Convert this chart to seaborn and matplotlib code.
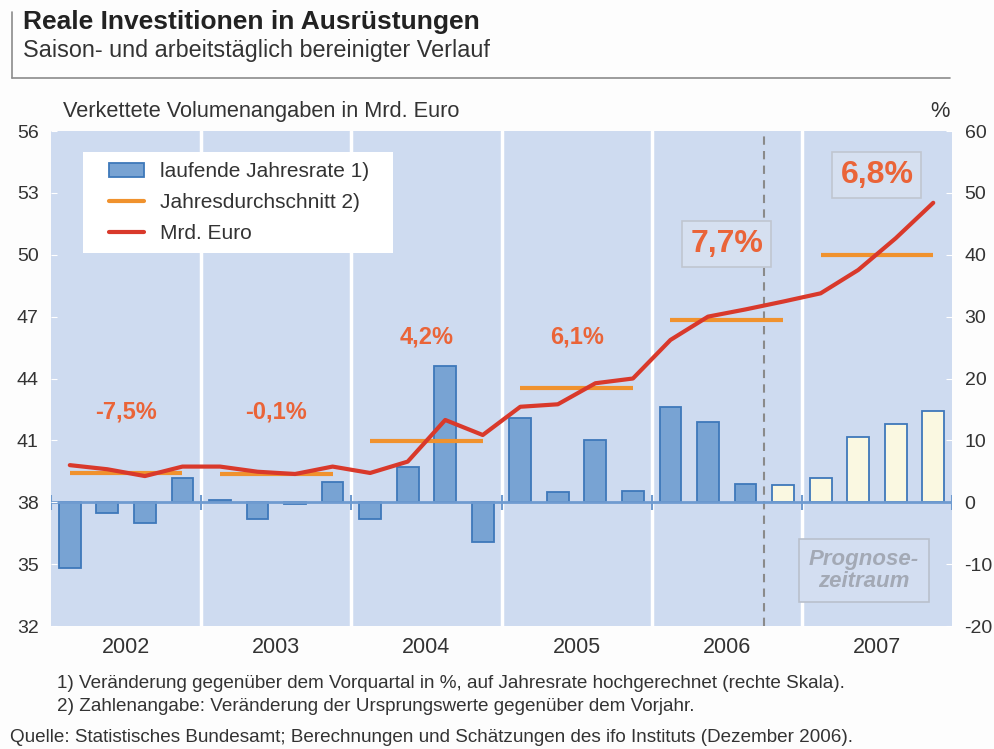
import matplotlib.pyplot as plt
import matplotlib.lines as mlines
import matplotlib.patches as mpatches
import pandas as pd
import seaborn as sns

# Data
years = ['2002', '2003', '2004', '2005', '2006', '2007']
quarter_idx = list(range(24))
# laufende Jahresrate in % (right axis)
rate = [-10.7, -1.8, -3.3, 3.9,
        0.3, -2.7, -0.3, 3.3,
        -2.7, 5.7, 22.1, -6.5,
        13.6, 1.6, 10.0, 1.9,
        15.4, 12.9, 2.9, 2.8,
        4.0, 10.5, 12.6, 14.7]
phase = ['Ist'] * 19 + ['Prognose'] * 5
# Mrd. Euro (left axis)
level = [39.8, 39.6, 39.27, 39.73,
         39.73, 39.48, 39.37, 39.73,
         39.42, 39.97, 41.99, 41.26,
         42.63, 42.75, 43.77, 44.0,
         45.87, 47.0, 47.35, 47.73,
         48.13, 49.26, 50.8, 52.52]
year_avg = [39.42, 39.37, 40.98, 43.52, 46.84, 50.0]
year_change = ['-7,5%', '-0,1%', '4,2%', '6,1%', '7,7%', '6,8%']

left_ticks = [32, 35, 38, 41, 44, 47, 50, 53, 56]
right_ticks = [-20, -10, 0, 10, 20, 30, 40, 50, 60]

bg = '#CEDBF0'
bar_blue = '#78A3D3'
bar_edge = '#3E78BA'
cream = '#FAF8E1'
red = '#D9392B'
orange = '#F0922E'
label_col = '#EA6438'
txt = '#333333'

sns.set_style('white')
plt.rcParams['font.family'] = ['Liberation Sans', 'DejaVu Sans']
plt.rcParams['axes.unicode_minus'] = False

df = pd.DataFrame({'q': quarter_idx, 'rate': rate, 'phase': phase})

fig = plt.figure(figsize=(9.95, 7.49), dpi=100)
fig.patch.set_facecolor('#FDFDFD')
ax = fig.add_axes([0.0513, 0.1642, 0.9055, 0.6609])
ax.set_facecolor(bg)

# bars on the % axis
sns.barplot(data=df, x='q', y='rate', hue='phase',
            palette={'Ist': bar_blue, 'Prognose': cream}, saturation=1,
            dodge=False, width=0.58, edgecolor=bar_edge, linewidth=1.3,
            legend=False, ax=ax, zorder=3)
ax.set_xlim(-0.5, 23.5)
ax.set_ylim(-20, 60)
ax.set_xlabel('')
ax.set_ylabel('')

# year separators and forecast marker
for b in [3.5, 7.5, 11.5, 15.5, 19.5]:
    ax.axvline(b, color='white', lw=2.5, zorder=1)
ax.axvline(18.5, color='#8A8A8A', lw=1.5, ls=(0, (4, 3)), zorder=2)
ax.axhline(0, color='#6F9BD0', lw=2, zorder=4)
ax.vlines([-0.5, 3.5, 7.5, 11.5, 15.5, 19.5, 23.5], -1.2, 1.2,
          color='#6F9BD0', lw=1.5, zorder=4)

ax.set_xticks([1.5, 5.5, 9.5, 13.5, 17.5, 21.5])
ax.set_xticklabels(years, fontsize=15.5, color=txt)
ax.tick_params(axis='x', length=0, pad=8)

# Mrd. Euro on twin axis (shown on the left)
ax2 = ax.twinx()
ax2.set_ylim(32, 56)
ax2.set_yticks(left_ticks)
ax2.yaxis.tick_left()
ax2.tick_params(axis='y', direction='in', length=4, color='white',
                labelsize=14, labelcolor=txt, pad=9)
ax.yaxis.tick_right()
ax.set_yticks(right_ticks)
ax.tick_params(axis='y', direction='in', length=4, color='white',
               labelsize=14, labelcolor=txt, pad=9)

sns.lineplot(x=quarter_idx, y=level, ax=ax2, color=red, lw=3, zorder=6)
for i, v in enumerate(year_avg):
    ax2.hlines(v, 4 * i, 4 * i + 3, color=orange, lw=3, zorder=5)

for s in ['top', 'bottom', 'left', 'right']:
    ax.spines[s].set_visible(False)
    ax2.spines[s].set_visible(False)

# yearly change labels
lab_pos = [(1.5, 42.4), (5.5, 42.4), (9.5, 46.0), (13.5, 46.0)]
for (x, y), s in zip(lab_pos, year_change[:4]):
    ax2.text(x, y, s, ha='center', va='center', fontsize=17,
             fontweight='bold', color=label_col, zorder=7)
box_pos = [(17.5, 50.5), (21.5, 53.85)]
for (x, y), s in zip(box_pos, year_change[4:]):
    ax2.text(x, y, s, ha='center', va='center', fontsize=23,
             fontweight='bold', color=label_col, zorder=7,
             bbox=dict(boxstyle='square,pad=0.25', facecolor='#D6E0F0',
                       edgecolor='#C0C6D0', lw=1.2))

ax2.text(21.15, 34.7, 'Prognose-\nzeitraum', ha='center', va='center',
         fontsize=16, fontweight='bold', fontstyle='italic', color='#A3A9B5',
         linespacing=1.05, zorder=7,
         bbox=dict(boxstyle='square,pad=0.45', facecolor='#D3DEF1',
                   edgecolor='#B9C0CC', lw=1.2))

# legend on a white panel
ax2.add_patch(mpatches.Rectangle((0.0355, 0.7535), 0.344, 0.2041,
                                 transform=ax2.transAxes, facecolor='white',
                                 edgecolor='none', zorder=9))
handles = [mpatches.Patch(facecolor=bar_blue, edgecolor=bar_edge, lw=1.3),
           mlines.Line2D([], [], color=orange, lw=3),
           mlines.Line2D([], [], color=red, lw=3)]
labels = ['laufende Jahresrate 1)', 'Jahresdurchschnitt 2)', 'Mrd. Euro']
leg = ax2.legend(handles, labels, loc='upper left',
                 bbox_to_anchor=(0.0644, 0.937), fontsize=15,
                 frameon=False, borderpad=0, handlelength=1.7,
                 labelspacing=0.58, handletextpad=0.75, borderaxespad=0)
leg.set_zorder(10)
for t in leg.get_texts():
    t.set_color(txt)

# header
fig.text(0.023, 0.9706, 'Reale Investitionen in Ausrüstungen',
         fontsize=19, fontweight='bold', color='#222222', va='center')
fig.text(0.023, 0.9332, 'Saison- und arbeitstäglich bereinigter Verlauf',
         fontsize=16.8, color=txt, va='center')
fig.add_artist(mlines.Line2D([0.012, 0.012], [0.984, 0.8959],
                             color='#8C8C8C', lw=1.2))
fig.add_artist(mlines.Line2D([0.012, 0.955], [0.8959, 0.8959],
                             color='#8C8C8C', lw=1.2))
fig.text(0.0633, 0.8505, 'Verkettete Volumenangaben in Mrd. Euro',
         fontsize=15.7, color=txt, va='center')
fig.text(0.9447, 0.8505, '%', fontsize=15.7, color=txt, va='center',
         ha='center')

# footnotes
fig.text(0.0573, 0.0881, '1) Veränderung gegenüber dem Vorquartal in %, '
         'auf Jahresrate hochgerechnet (rechte Skala).',
         fontsize=13.6, color=txt, va='center')
fig.text(0.0573, 0.0561, '2) Zahlenangabe: Veränderung der Ursprungswerte '
         'gegenüber dem Vorjahr.', fontsize=13.6, color=txt, va='center')
fig.text(0.010, 0.016, 'Quelle: Statistisches Bundesamt; Berechnungen und '
         'Schätzungen des ifo Instituts (Dezember 2006).',
         fontsize=13.6, color=txt, va='center')

plt.savefig('out.png', dpi=100, facecolor=fig.get_facecolor())
